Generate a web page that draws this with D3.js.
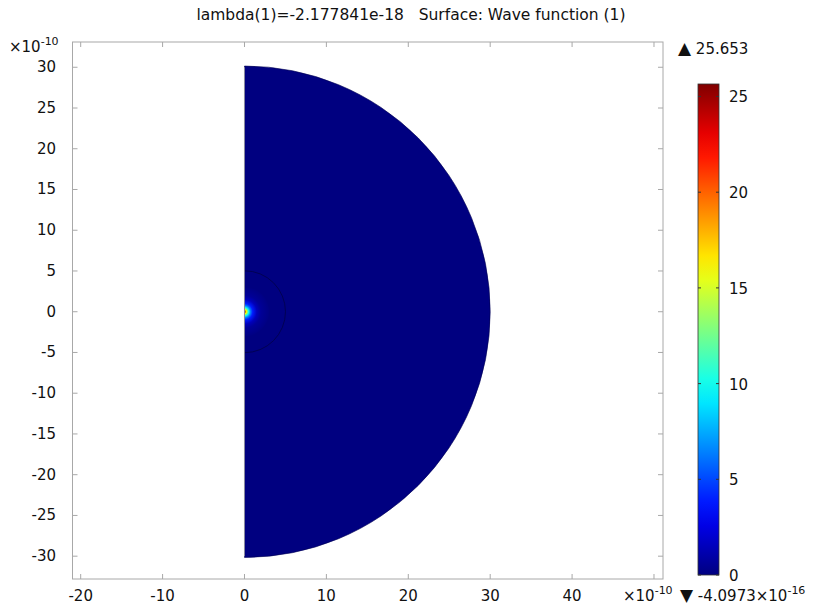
<!DOCTYPE html>
<html>
<head>
<meta charset="UTF-8" />
<script src="https://d3js.org/d3.v7.min.js"></script>
<style>
  body { margin: 0; background: #fff; }
  svg { font-family: "DejaVu Sans", sans-serif; }
  .tick-label { font-size: 15px; fill: #111; }
</style>
</head>
<body>
<svg width="821" height="609"></svg>
<script>
// values in units of 1e-10 m
const xTicks = [-20, -10, 0, 10, 20, 30, 40, 50];
const xTickLabels = ["-20", "-10", "0", "10", "20", "30", "40", ""];
const yTicks = [-30, -25, -20, -15, -10, -5, 0, 5, 10, 15, 20, 25, 30];
const cbTicks = [0, 5, 10, 15, 20, 25];
const outerRadius = 30;
const innerRadius = 5;
const valueMin = -4.0973e-16;
const valueMax = 25.653;
// radial profile of the wave function
const profileR = [0, 0.25, 0.5, 0.75, 1, 1.5, 2, 3];
const profileVal = [25.653, 16, 10, 6.2, 3.9, 1.5, 0.6, 0.09];

const svg = d3.select("svg");

const x = d3.scaleLinear().domain([-21.0, 51.1]).range([72.5, 663]);
const y = d3.scaleLinear().domain([-32.8, 33.1]).range([579, 42]);

function jet(t) {
  const c = v => Math.max(0, Math.min(1, v));
  const r = c(1.5 - Math.abs(4 * t - 3));
  const g = c(1.5 - Math.abs(4 * t - 2));
  const b = c(1.5 - Math.abs(4 * t - 1));
  return d3.rgb(r * 255, g * 255, b * 255).toString();
}
const color = d3.scaleSequential(jet).domain([valueMin, valueMax]);

const defs = svg.append("defs");

// radial gradient for the surface
const rMax = profileR[profileR.length - 1];
const rg = defs.append("radialGradient")
  .attr("id", "wave")
  .attr("gradientUnits", "userSpaceOnUse")
  .attr("cx", x(0)).attr("cy", y(0))
  .attr("r", x(rMax) - x(0));
rg.selectAll("stop").data(profileR).enter().append("stop")
  .attr("offset", d => d / rMax)
  .attr("stop-color", (d, i) => color(profileVal[i]));

// semicircle domain
const half = d3.path();
half.moveTo(x(0), y(outerRadius));
half.arc(x(0), y(0), x(outerRadius) - x(0), -Math.PI / 2, Math.PI / 2, false);
half.closePath();

svg.append("path")
  .attr("d", half.toString())
  .attr("fill", color(0))
  .attr("stroke", "#000050")
  .attr("stroke-width", 0.6);

const spot = d3.path();
spot.moveTo(x(0), y(rMax));
spot.arc(x(0), y(0), x(rMax) - x(0), -Math.PI / 2, Math.PI / 2, false);
spot.closePath();
svg.append("path").attr("d", spot.toString()).attr("fill", "url(#wave)");

// inner boundary circle
const inner = d3.path();
inner.arc(x(0), y(0), x(innerRadius) - x(0), -Math.PI / 2, Math.PI / 2, false);
svg.append("path")
  .attr("d", inner.toString())
  .attr("fill", "none")
  .attr("stroke", "#000040")
  .attr("stroke-opacity", 0.7)
  .attr("stroke-width", 1);

// symmetry axis line
svg.append("line")
  .attr("x1", x(0)).attr("x2", x(0))
  .attr("y1", y(outerRadius)).attr("y2", y(-outerRadius))
  .attr("stroke", "#8a8aa0").attr("stroke-width", 1);

// frame
const fx0 = x.range()[0], fx1 = x.range()[1], fy0 = y.range()[1], fy1 = y.range()[0];
svg.append("rect")
  .attr("x", fx0).attr("y", fy0)
  .attr("width", fx1 - fx0).attr("height", fy1 - fy0)
  .attr("fill", "none").attr("stroke", "#a8a8a8").attr("stroke-width", 1);

const tickLen = 5;
const tk = svg.append("g").attr("stroke", "#a8a8a8").attr("stroke-width", 1);
xTicks.forEach(v => {
  tk.append("line").attr("x1", x(v)).attr("x2", x(v)).attr("y1", fy1).attr("y2", fy1 - tickLen);
  tk.append("line").attr("x1", x(v)).attr("x2", x(v)).attr("y1", fy0).attr("y2", fy0 + tickLen);
});
yTicks.forEach(v => {
  tk.append("line").attr("x1", fx0).attr("x2", fx0 + tickLen).attr("y1", y(v)).attr("y2", y(v));
  tk.append("line").attr("x1", fx1).attr("x2", fx1 - tickLen).attr("y1", y(v)).attr("y2", y(v));
});

svg.append("g").selectAll("text").data(xTicks).enter().append("text")
  .attr("class", "tick-label")
  .attr("x", d => x(d)).attr("y", 601)
  .attr("text-anchor", "middle")
  .text((d, i) => xTickLabels[i]);

svg.append("g").selectAll("text").data(yTicks).enter().append("text")
  .attr("class", "tick-label")
  .attr("x", 56).attr("y", d => y(d) + 5)
  .attr("text-anchor", "end")
  .text(d => d);

// exponent labels
const e1 = svg.append("text").attr("class", "tick-label").attr("x", 9).attr("y", 52);
e1.append("tspan").text("×10");
e1.append("tspan").attr("dy", -7).attr("font-size", 11).text("-10");

const e2 = svg.append("text").attr("class", "tick-label").attr("x", 623).attr("y", 601);
e2.append("tspan").text("×10");
e2.append("tspan").attr("dy", -7).attr("font-size", 11).text("-10");

// title
svg.append("text")
  .attr("x", 411).attr("y", 20)
  .attr("text-anchor", "middle")
  .attr("font-size", 15.5).attr("fill", "#111")
  .attr("xml:space", "preserve")
  .text("lambda(1)=-2.177841e-18   Surface: Wave function (1)");

// colorbar
const cb = d3.scaleLinear().domain([valueMin, valueMax]).range([575, 84]);
const cbx0 = 698, cbx1 = 719;
const lg = defs.append("linearGradient")
  .attr("id", "cbar").attr("x1", 0).attr("x2", 0).attr("y1", 1).attr("y2", 0);
const stops = d3.range(0, 21).map(i => valueMin + (valueMax - valueMin) * i / 20);
lg.selectAll("stop").data(stops).enter().append("stop")
  .attr("offset", (d, i) => i / 20)
  .attr("stop-color", d => color(d));

svg.append("rect")
  .attr("x", cbx0).attr("y", cb(valueMax))
  .attr("width", cbx1 - cbx0).attr("height", cb(valueMin) - cb(valueMax))
  .attr("fill", "url(#cbar)")
  .attr("stroke", "#333").attr("stroke-width", 0.8);

const cbt = svg.append("g").attr("stroke", "#333").attr("stroke-width", 1);
cbTicks.forEach(v => {
  cbt.append("line").attr("x1", cbx0).attr("x2", cbx0 + 3).attr("y1", cb(v)).attr("y2", cb(v));
  cbt.append("line").attr("x1", cbx1).attr("x2", cbx1 - 3).attr("y1", cb(v)).attr("y2", cb(v));
});

svg.append("g").selectAll("text").data(cbTicks).enter().append("text")
  .attr("class", "tick-label")
  .attr("x", 729).attr("y", d => cb(d) + 6)
  .text(d => d);

// max / min markers
const mx = svg.append("text").attr("class", "tick-label").attr("x", 678).attr("y", 54);
mx.append("tspan").attr("font-size", 17).text("▲");
mx.append("tspan").text(" " + valueMax);
const mn = svg.append("text").attr("class", "tick-label").attr("x", 680).attr("y", 601);
mn.append("tspan").attr("font-size", 17).text("▼");
mn.append("tspan").text(" -4.0973×10");
mn.append("tspan").attr("dy", -7).attr("font-size", 11).text("-16");
</script>
</body>
</html>
